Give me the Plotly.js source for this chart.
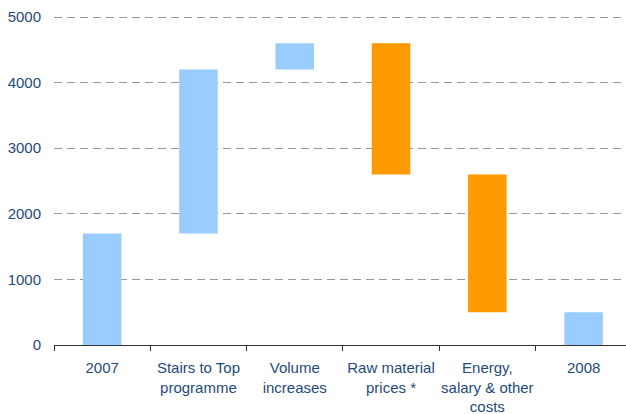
<!DOCTYPE html>
<html>
<head>
<meta charset="utf-8">
<script src="https://cdn.plot.ly/plotly-3.0.1.min.js"></script>
<style>html,body{margin:0;padding:0;background:#fff;}</style>
</head>
<body>
<div id="chart" style="width:626px;height:414px;"></div>
<script>
const categories = ["2007", "Stairs to Top<br>programme", "Volume<br>increases", "Raw material<br>prices *", "Energy,<br>salary & other<br>costs", "2008"];
const measures = ["absolute", "relative", "relative", "relative", "relative", "total"];
const values = [1700, 2500, 400, -2000, -2100, 0];
const yTicks = [0, 1000, 2000, 3000, 4000, 5000];

const textColor = "#1f4a7a";

const trace = {
  type: "waterfall",
  x: categories,
  y: values,
  measure: measures,
  width: 0.4,
  connector: {visible: false},
  increasing: {marker: {color: "#99ccff"}},
  decreasing: {marker: {color: "#ff9900"}},
  totals: {marker: {color: "#99ccff"}},
  hoverinfo: "none",
  textinfo: "none"
};

const layout = {
  width: 626,
  height: 414,
  margin: {l: 54, r: 0, t: 16, b: 69},
  paper_bgcolor: "#ffffff",
  plot_bgcolor: "#ffffff",
  showlegend: false,
  font: {family: "Liberation Sans, Arial, sans-serif", size: 15, color: textColor},
  xaxis: {
    type: "category",
    range: [-0.5, 5.44],
    tickson: "boundaries",
    tickangle: 0,
    ticks: "outside",
    ticklen: 5,
    tickcolor: "#333333",
    showline: true,
    linecolor: "#333333",
    linewidth: 1,
    showgrid: false,
    ticklabelstandoff: 9,
    tickfont: {size: 15, color: textColor},
    fixedrange: true
  },
  yaxis: {
    range: [0, 5016],
    tickvals: yTicks,
    ticktext: yTicks.map(String),
    showline: false,
    zeroline: false,
    showgrid: true,
    gridcolor: "#999999",
    griddash: "8px,5px",
    gridwidth: 1,
    ticks: "",
    ticklabelstandoff: 12,
    tickfont: {size: 15, color: textColor},
    fixedrange: true
  }
};

Plotly.newPlot("chart", [trace], layout, {displayModeBar: false, staticPlot: true});
</script>
</body>
</html>
